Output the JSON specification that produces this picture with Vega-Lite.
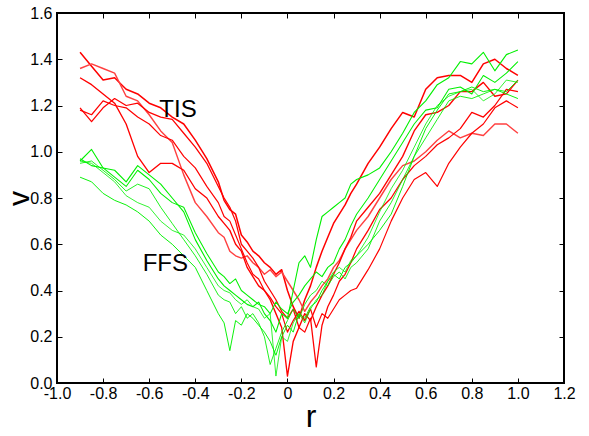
{
"$schema": "https://vega.github.io/schema/vega-lite/v6.json",
"width": 507, "height": 370,
"autosize": "none",
"padding": {"left": 57, "top": 13, "right": 25, "bottom": 53},
"config": {"view": {"stroke": "black", "strokeWidth": 2}, "font": "Liberation Sans",
  "axis": {"grid": false, "domain": false, "offset": -5, "tickColor": "black", "tickSize": 5, "tickWidth": 1, "labelFlush": false, "labelOverlap": false, "labelFont": "Liberation Sans", "labelFontSize": 16, "labelColor": "black", "titleFont": "Liberation Sans", "titleFontSize": 32, "titleFontWeight": "normal", "titleColor": "black"}},
"layer": [
{"data": {"values": [
{"s":"R1","x":-0.9,"y":1.43},{"s":"R1","x":-0.85,"y":1.37},{"s":"R1","x":-0.8,"y":1.31},{"s":"R1","x":-0.75,"y":1.32},{"s":"R1","x":-0.7,"y":1.27},{"s":"R1","x":-0.65,"y":1.25},{"s":"R1","x":-0.6,"y":1.21},{"s":"R1","x":-0.55,"y":1.19},{"s":"R1","x":-0.5,"y":1.15},{"s":"R1","x":-0.45,"y":1.12},{"s":"R1","x":-0.4,"y":1.05},{"s":"R1","x":-0.35,"y":0.97},{"s":"R1","x":-0.3,"y":0.87},
{"s":"R1","x":-0.275,"y":0.79},{"s":"R1","x":-0.25,"y":0.75},{"s":"R1","x":-0.225,"y":0.73},{"s":"R1","x":-0.2,"y":0.64},{"s":"R1","x":-0.175,"y":0.61},{"s":"R1","x":-0.15,"y":0.57},{"s":"R1","x":-0.125,"y":0.55},{"s":"R1","x":-0.1,"y":0.52},{"s":"R1","x":-0.075,"y":0.50},{"s":"R1","x":-0.05,"y":0.47},{"s":"R1","x":-0.025,"y":0.49},{"s":"R1","x":0,"y":0.40},{"s":"R1","x":0.025,"y":0.33},{"s":"R1","x":0.05,"y":0.28},{"s":"R1","x":0.075,"y":0.36},{"s":"R1","x":0.1,"y":0.42},{"s":"R1","x":0.125,"y":0.50},{"s":"R1","x":0.15,"y":0.57},{"s":"R1","x":0.175,"y":0.63},{"s":"R1","x":0.2,"y":0.69},{"s":"R1","x":0.225,"y":0.73},{"s":"R1","x":0.25,"y":0.77},{"s":"R1","x":0.275,"y":0.82},
{"s":"R1","x":0.3,"y":0.86},{"s":"R1","x":0.35,"y":0.95},{"s":"R1","x":0.4,"y":1.02},{"s":"R1","x":0.45,"y":1.10},{"s":"R1","x":0.5,"y":1.17},{"s":"R1","x":0.55,"y":1.15},{"s":"R1","x":0.6,"y":1.27},{"s":"R1","x":0.65,"y":1.32},{"s":"R1","x":0.7,"y":1.33},{"s":"R1","x":0.75,"y":1.33},{"s":"R1","x":0.8,"y":1.30},{"s":"R1","x":0.85,"y":1.38},{"s":"R1","x":0.9,"y":1.40},{"s":"R1","x":0.95,"y":1.36},{"s":"R1","x":1.0,"y":1.33},
{"s":"R2","x":-0.9,"y":1.36},{"s":"R2","x":-0.85,"y":1.38},{"s":"R2","x":-0.8,"y":1.36},{"s":"R2","x":-0.75,"y":1.34},{"s":"R2","x":-0.7,"y":1.24},{"s":"R2","x":-0.65,"y":1.22},{"s":"R2","x":-0.6,"y":1.16},{"s":"R2","x":-0.55,"y":1.09},{"s":"R2","x":-0.5,"y":1.04},{"s":"R2","x":-0.45,"y":0.90},{"s":"R2","x":-0.4,"y":0.78},{"s":"R2","x":-0.35,"y":0.72},{"s":"R2","x":-0.3,"y":0.65},
{"s":"R2","x":-0.275,"y":0.63},{"s":"R2","x":-0.25,"y":0.57},{"s":"R2","x":-0.225,"y":0.55},{"s":"R2","x":-0.2,"y":0.54},{"s":"R2","x":-0.175,"y":0.55},{"s":"R2","x":-0.15,"y":0.52},{"s":"R2","x":-0.125,"y":0.50},{"s":"R2","x":-0.1,"y":0.47},{"s":"R2","x":-0.075,"y":0.49},{"s":"R2","x":-0.05,"y":0.46},{"s":"R2","x":-0.025,"y":0.48},{"s":"R2","x":0,"y":0.44},{"s":"R2","x":0.025,"y":0.40},{"s":"R2","x":0.05,"y":0.36},{"s":"R2","x":0.075,"y":0.31},{"s":"R2","x":0.1,"y":0.35},{"s":"R2","x":0.125,"y":0.38},{"s":"R2","x":0.15,"y":0.42},{"s":"R2","x":0.175,"y":0.45},{"s":"R2","x":0.2,"y":0.50},{"s":"R2","x":0.225,"y":0.53},{"s":"R2","x":0.25,"y":0.58},{"s":"R2","x":0.275,"y":0.62},
{"s":"R2","x":0.3,"y":0.66},{"s":"R2","x":0.35,"y":0.72},{"s":"R2","x":0.4,"y":0.80},{"s":"R2","x":0.45,"y":0.88},{"s":"R2","x":0.5,"y":0.94},{"s":"R2","x":0.55,"y":0.96},{"s":"R2","x":0.6,"y":1.00},{"s":"R2","x":0.65,"y":1.05},{"s":"R2","x":0.7,"y":1.09},{"s":"R2","x":0.75,"y":1.06},{"s":"R2","x":0.8,"y":1.08},{"s":"R2","x":0.85,"y":1.07},{"s":"R2","x":0.9,"y":1.12},{"s":"R2","x":0.95,"y":1.12},{"s":"R2","x":1.0,"y":1.08},
{"s":"R3","x":-0.9,"y":1.32},{"s":"R3","x":-0.85,"y":1.29},{"s":"R3","x":-0.8,"y":1.25},{"s":"R3","x":-0.75,"y":1.21},{"s":"R3","x":-0.7,"y":1.12},{"s":"R3","x":-0.65,"y":0.98},{"s":"R3","x":-0.6,"y":0.91},{"s":"R3","x":-0.55,"y":0.95},{"s":"R3","x":-0.5,"y":0.95},{"s":"R3","x":-0.45,"y":0.92},{"s":"R3","x":-0.4,"y":0.84},{"s":"R3","x":-0.35,"y":0.80},{"s":"R3","x":-0.3,"y":0.72},
{"s":"R3","x":-0.275,"y":0.69},{"s":"R3","x":-0.25,"y":0.66},{"s":"R3","x":-0.225,"y":0.60},{"s":"R3","x":-0.2,"y":0.57},{"s":"R3","x":-0.175,"y":0.50},{"s":"R3","x":-0.15,"y":0.46},{"s":"R3","x":-0.125,"y":0.42},{"s":"R3","x":-0.1,"y":0.40},{"s":"R3","x":-0.075,"y":0.36},{"s":"R3","x":-0.05,"y":0.30},{"s":"R3","x":-0.025,"y":0.24},{"s":"R3","x":0,"y":0.03},{"s":"R3","x":0.025,"y":0.18},{"s":"R3","x":0.05,"y":0.24},{"s":"R3","x":0.075,"y":0.30},{"s":"R3","x":0.1,"y":0.27},{"s":"R3","x":0.125,"y":0.33},{"s":"R3","x":0.15,"y":0.38},{"s":"R3","x":0.175,"y":0.42},{"s":"R3","x":0.2,"y":0.47},{"s":"R3","x":0.225,"y":0.52},{"s":"R3","x":0.25,"y":0.58},{"s":"R3","x":0.275,"y":0.63},
{"s":"R3","x":0.3,"y":0.70},{"s":"R3","x":0.35,"y":0.76},{"s":"R3","x":0.4,"y":0.82},{"s":"R3","x":0.45,"y":0.90},{"s":"R3","x":0.5,"y":0.98},{"s":"R3","x":0.55,"y":1.09},{"s":"R3","x":0.6,"y":1.16},{"s":"R3","x":0.65,"y":1.17},{"s":"R3","x":0.7,"y":1.20},{"s":"R3","x":0.75,"y":1.26},{"s":"R3","x":0.8,"y":1.26},{"s":"R3","x":0.85,"y":1.30},{"s":"R3","x":0.9,"y":1.24},{"s":"R3","x":0.95,"y":1.25},{"s":"R3","x":1.0,"y":1.31},
{"s":"R4","x":-0.9,"y":1.19},{"s":"R4","x":-0.85,"y":1.13},{"s":"R4","x":-0.8,"y":1.19},{"s":"R4","x":-0.75,"y":1.23},{"s":"R4","x":-0.7,"y":1.20},{"s":"R4","x":-0.65,"y":1.21},{"s":"R4","x":-0.6,"y":1.17},{"s":"R4","x":-0.55,"y":1.15},{"s":"R4","x":-0.5,"y":1.14},{"s":"R4","x":-0.45,"y":1.08},{"s":"R4","x":-0.4,"y":1.02},{"s":"R4","x":-0.35,"y":0.95},{"s":"R4","x":-0.3,"y":0.85},
{"s":"R4","x":-0.275,"y":0.80},{"s":"R4","x":-0.25,"y":0.76},{"s":"R4","x":-0.225,"y":0.70},{"s":"R4","x":-0.2,"y":0.60},{"s":"R4","x":-0.175,"y":0.57},{"s":"R4","x":-0.15,"y":0.54},{"s":"R4","x":-0.125,"y":0.50},{"s":"R4","x":-0.1,"y":0.44},{"s":"R4","x":-0.075,"y":0.40},{"s":"R4","x":-0.05,"y":0.36},{"s":"R4","x":-0.025,"y":0.31},{"s":"R4","x":0,"y":0.28},{"s":"R4","x":0.025,"y":0.32},{"s":"R4","x":0.05,"y":0.24},{"s":"R4","x":0.075,"y":0.22},{"s":"R4","x":0.1,"y":0.28},{"s":"R4","x":0.125,"y":0.07},{"s":"R4","x":0.15,"y":0.25},{"s":"R4","x":0.175,"y":0.33},{"s":"R4","x":0.2,"y":0.38},{"s":"R4","x":0.225,"y":0.44},{"s":"R4","x":0.25,"y":0.47},{"s":"R4","x":0.275,"y":0.52},
{"s":"R4","x":0.3,"y":0.58},{"s":"R4","x":0.35,"y":0.66},{"s":"R4","x":0.4,"y":0.75},{"s":"R4","x":0.45,"y":0.80},{"s":"R4","x":0.5,"y":0.88},{"s":"R4","x":0.55,"y":0.94},{"s":"R4","x":0.6,"y":0.98},{"s":"R4","x":0.65,"y":1.03},{"s":"R4","x":0.7,"y":1.06},{"s":"R4","x":0.75,"y":1.10},{"s":"R4","x":0.8,"y":1.17},{"s":"R4","x":0.85,"y":1.15},{"s":"R4","x":0.9,"y":1.20},{"s":"R4","x":0.95,"y":1.27},{"s":"R4","x":1.0,"y":1.26},
{"s":"R5","x":-0.9,"y":1.18},{"s":"R5","x":-0.85,"y":1.16},{"s":"R5","x":-0.8,"y":1.22},{"s":"R5","x":-0.75,"y":1.20},{"s":"R5","x":-0.7,"y":1.19},{"s":"R5","x":-0.65,"y":1.15},{"s":"R5","x":-0.6,"y":1.12},{"s":"R5","x":-0.55,"y":1.07},{"s":"R5","x":-0.5,"y":1.05},{"s":"R5","x":-0.45,"y":0.98},{"s":"R5","x":-0.4,"y":0.93},{"s":"R5","x":-0.35,"y":0.85},{"s":"R5","x":-0.3,"y":0.78},
{"s":"R5","x":-0.275,"y":0.72},{"s":"R5","x":-0.25,"y":0.70},{"s":"R5","x":-0.225,"y":0.64},{"s":"R5","x":-0.2,"y":0.58},{"s":"R5","x":-0.175,"y":0.52},{"s":"R5","x":-0.15,"y":0.47},{"s":"R5","x":-0.125,"y":0.45},{"s":"R5","x":-0.1,"y":0.40},{"s":"R5","x":-0.075,"y":0.37},{"s":"R5","x":-0.05,"y":0.33},{"s":"R5","x":-0.025,"y":0.30},{"s":"R5","x":0,"y":0.22},{"s":"R5","x":0.025,"y":0.27},{"s":"R5","x":0.05,"y":0.31},{"s":"R5","x":0.075,"y":0.27},{"s":"R5","x":0.1,"y":0.32},{"s":"R5","x":0.125,"y":0.24},{"s":"R5","x":0.15,"y":0.30},{"s":"R5","x":0.175,"y":0.28},{"s":"R5","x":0.2,"y":0.32},{"s":"R5","x":0.225,"y":0.36},{"s":"R5","x":0.25,"y":0.38},{"s":"R5","x":0.275,"y":0.40},
{"s":"R5","x":0.3,"y":0.41},{"s":"R5","x":0.35,"y":0.49},{"s":"R5","x":0.4,"y":0.58},{"s":"R5","x":0.45,"y":0.70},{"s":"R5","x":0.5,"y":0.80},{"s":"R5","x":0.55,"y":0.88},{"s":"R5","x":0.6,"y":0.91},{"s":"R5","x":0.65,"y":0.85},{"s":"R5","x":0.7,"y":0.95},{"s":"R5","x":0.75,"y":1.02},{"s":"R5","x":0.8,"y":1.08},{"s":"R5","x":0.85,"y":1.12},{"s":"R5","x":0.9,"y":1.19},{"s":"R5","x":0.95,"y":1.22},{"s":"R5","x":1.0,"y":1.19},
{"s":"G1","x":-0.9,"y":0.96},{"s":"G1","x":-0.85,"y":1.01},{"s":"G1","x":-0.8,"y":0.93},{"s":"G1","x":-0.75,"y":0.92},{"s":"G1","x":-0.7,"y":0.87},{"s":"G1","x":-0.65,"y":0.94},{"s":"G1","x":-0.6,"y":0.90},{"s":"G1","x":-0.55,"y":0.86},{"s":"G1","x":-0.5,"y":0.80},{"s":"G1","x":-0.45,"y":0.74},{"s":"G1","x":-0.4,"y":0.62},{"s":"G1","x":-0.35,"y":0.53},{"s":"G1","x":-0.3,"y":0.45},
{"s":"G1","x":-0.275,"y":0.42},{"s":"G1","x":-0.25,"y":0.40},{"s":"G1","x":-0.225,"y":0.38},{"s":"G1","x":-0.2,"y":0.36},{"s":"G1","x":-0.175,"y":0.34},{"s":"G1","x":-0.15,"y":0.33},{"s":"G1","x":-0.125,"y":0.35},{"s":"G1","x":-0.1,"y":0.30},{"s":"G1","x":-0.075,"y":0.27},{"s":"G1","x":-0.05,"y":0.22},{"s":"G1","x":-0.025,"y":0.30},{"s":"G1","x":0,"y":0.28},{"s":"G1","x":0.025,"y":0.40},{"s":"G1","x":0.05,"y":0.52},{"s":"G1","x":0.075,"y":0.55},{"s":"G1","x":0.1,"y":0.50},{"s":"G1","x":0.125,"y":0.62},{"s":"G1","x":0.15,"y":0.72},{"s":"G1","x":0.175,"y":0.74},{"s":"G1","x":0.2,"y":0.76},{"s":"G1","x":0.225,"y":0.78},{"s":"G1","x":0.25,"y":0.80},{"s":"G1","x":0.275,"y":0.86},
{"s":"G1","x":0.3,"y":0.88},{"s":"G1","x":0.35,"y":0.90},{"s":"G1","x":0.4,"y":0.93},{"s":"G1","x":0.45,"y":1.00},{"s":"G1","x":0.5,"y":1.08},{"s":"G1","x":0.55,"y":1.17},{"s":"G1","x":0.6,"y":1.22},{"s":"G1","x":0.65,"y":1.29},{"s":"G1","x":0.7,"y":1.32},{"s":"G1","x":0.75,"y":1.39},{"s":"G1","x":0.8,"y":1.38},{"s":"G1","x":0.85,"y":1.43},{"s":"G1","x":0.9,"y":1.35},{"s":"G1","x":0.95,"y":1.42},{"s":"G1","x":1.0,"y":1.44},
{"s":"G2","x":-0.9,"y":0.97},{"s":"G2","x":-0.85,"y":0.94},{"s":"G2","x":-0.8,"y":0.93},{"s":"G2","x":-0.75,"y":0.89},{"s":"G2","x":-0.7,"y":0.85},{"s":"G2","x":-0.65,"y":0.92},{"s":"G2","x":-0.6,"y":0.88},{"s":"G2","x":-0.55,"y":0.82},{"s":"G2","x":-0.5,"y":0.78},{"s":"G2","x":-0.45,"y":0.76},{"s":"G2","x":-0.4,"y":0.65},{"s":"G2","x":-0.35,"y":0.56},{"s":"G2","x":-0.3,"y":0.48},
{"s":"G2","x":-0.275,"y":0.46},{"s":"G2","x":-0.25,"y":0.43},{"s":"G2","x":-0.225,"y":0.45},{"s":"G2","x":-0.2,"y":0.40},{"s":"G2","x":-0.175,"y":0.38},{"s":"G2","x":-0.15,"y":0.36},{"s":"G2","x":-0.125,"y":0.34},{"s":"G2","x":-0.1,"y":0.33},{"s":"G2","x":-0.075,"y":0.30},{"s":"G2","x":-0.05,"y":0.35},{"s":"G2","x":-0.025,"y":0.32},{"s":"G2","x":0,"y":0.30},{"s":"G2","x":0.025,"y":0.35},{"s":"G2","x":0.05,"y":0.38},{"s":"G2","x":0.075,"y":0.42},{"s":"G2","x":0.1,"y":0.45},{"s":"G2","x":0.125,"y":0.48},{"s":"G2","x":0.15,"y":0.46},{"s":"G2","x":0.175,"y":0.50},{"s":"G2","x":0.2,"y":0.52},{"s":"G2","x":0.225,"y":0.58},{"s":"G2","x":0.25,"y":0.62},{"s":"G2","x":0.275,"y":0.68},
{"s":"G2","x":0.3,"y":0.73},{"s":"G2","x":0.35,"y":0.80},{"s":"G2","x":0.4,"y":0.88},{"s":"G2","x":0.45,"y":0.96},{"s":"G2","x":0.5,"y":1.04},{"s":"G2","x":0.55,"y":1.12},{"s":"G2","x":0.6,"y":1.18},{"s":"G2","x":0.65,"y":1.19},{"s":"G2","x":0.7,"y":1.27},{"s":"G2","x":0.75,"y":1.28},{"s":"G2","x":0.8,"y":1.25},{"s":"G2","x":0.85,"y":1.33},{"s":"G2","x":0.9,"y":1.30},{"s":"G2","x":0.95,"y":1.34},{"s":"G2","x":1.0,"y":1.39},
{"s":"G3","x":-0.9,"y":0.89},{"s":"G3","x":-0.85,"y":0.87},{"s":"G3","x":-0.8,"y":0.82},{"s":"G3","x":-0.75,"y":0.79},{"s":"G3","x":-0.7,"y":0.77},{"s":"G3","x":-0.65,"y":0.74},{"s":"G3","x":-0.6,"y":0.70},{"s":"G3","x":-0.55,"y":0.64},{"s":"G3","x":-0.5,"y":0.60},{"s":"G3","x":-0.45,"y":0.55},{"s":"G3","x":-0.4,"y":0.50},{"s":"G3","x":-0.35,"y":0.40},{"s":"G3","x":-0.3,"y":0.30},
{"s":"G3","x":-0.275,"y":0.26},{"s":"G3","x":-0.25,"y":0.14},{"s":"G3","x":-0.225,"y":0.27},{"s":"G3","x":-0.2,"y":0.25},{"s":"G3","x":-0.175,"y":0.30},{"s":"G3","x":-0.15,"y":0.28},{"s":"G3","x":-0.125,"y":0.25},{"s":"G3","x":-0.1,"y":0.22},{"s":"G3","x":-0.075,"y":0.18},{"s":"G3","x":-0.05,"y":0.12},{"s":"G3","x":-0.025,"y":0.20},{"s":"G3","x":0,"y":0.25},{"s":"G3","x":0.025,"y":0.22},{"s":"G3","x":0.05,"y":0.30},{"s":"G3","x":0.075,"y":0.28},{"s":"G3","x":0.1,"y":0.33},{"s":"G3","x":0.125,"y":0.35},{"s":"G3","x":0.15,"y":0.40},{"s":"G3","x":0.175,"y":0.44},{"s":"G3","x":0.2,"y":0.47},{"s":"G3","x":0.225,"y":0.45},{"s":"G3","x":0.25,"y":0.50},{"s":"G3","x":0.275,"y":0.52},
{"s":"G3","x":0.3,"y":0.55},{"s":"G3","x":0.35,"y":0.60},{"s":"G3","x":0.4,"y":0.66},{"s":"G3","x":0.45,"y":0.73},{"s":"G3","x":0.5,"y":0.85},{"s":"G3","x":0.55,"y":0.98},{"s":"G3","x":0.6,"y":1.10},{"s":"G3","x":0.65,"y":1.18},{"s":"G3","x":0.7,"y":1.25},{"s":"G3","x":0.75,"y":1.26},{"s":"G3","x":0.8,"y":1.28},{"s":"G3","x":0.85,"y":1.26},{"s":"G3","x":0.9,"y":1.27},{"s":"G3","x":0.95,"y":1.25},{"s":"G3","x":1.0,"y":1.23},
{"s":"G4","x":-0.9,"y":0.95},{"s":"G4","x":-0.85,"y":0.96},{"s":"G4","x":-0.8,"y":0.92},{"s":"G4","x":-0.75,"y":0.88},{"s":"G4","x":-0.7,"y":0.83},{"s":"G4","x":-0.65,"y":0.86},{"s":"G4","x":-0.6,"y":0.84},{"s":"G4","x":-0.55,"y":0.76},{"s":"G4","x":-0.5,"y":0.69},{"s":"G4","x":-0.45,"y":0.62},{"s":"G4","x":-0.4,"y":0.55},{"s":"G4","x":-0.35,"y":0.47},{"s":"G4","x":-0.3,"y":0.38},
{"s":"G4","x":-0.275,"y":0.36},{"s":"G4","x":-0.25,"y":0.35},{"s":"G4","x":-0.225,"y":0.30},{"s":"G4","x":-0.2,"y":0.33},{"s":"G4","x":-0.175,"y":0.28},{"s":"G4","x":-0.15,"y":0.30},{"s":"G4","x":-0.125,"y":0.26},{"s":"G4","x":-0.1,"y":0.20},{"s":"G4","x":-0.075,"y":0.08},{"s":"G4","x":-0.05,"y":0.15},{"s":"G4","x":-0.025,"y":0.22},{"s":"G4","x":0,"y":0.27},{"s":"G4","x":0.025,"y":0.32},{"s":"G4","x":0.05,"y":0.28},{"s":"G4","x":0.075,"y":0.34},{"s":"G4","x":0.1,"y":0.38},{"s":"G4","x":0.125,"y":0.40},{"s":"G4","x":0.15,"y":0.44},{"s":"G4","x":0.175,"y":0.42},{"s":"G4","x":0.2,"y":0.46},{"s":"G4","x":0.225,"y":0.48},{"s":"G4","x":0.25,"y":0.45},{"s":"G4","x":0.275,"y":0.50},
{"s":"G4","x":0.3,"y":0.52},{"s":"G4","x":0.35,"y":0.58},{"s":"G4","x":0.4,"y":0.70},{"s":"G4","x":0.45,"y":0.78},{"s":"G4","x":0.5,"y":0.88},{"s":"G4","x":0.55,"y":0.98},{"s":"G4","x":0.6,"y":1.06},{"s":"G4","x":0.65,"y":1.14},{"s":"G4","x":0.7,"y":1.22},{"s":"G4","x":0.75,"y":1.24},{"s":"G4","x":0.8,"y":1.23},{"s":"G4","x":0.85,"y":1.25},{"s":"G4","x":0.9,"y":1.27},{"s":"G4","x":0.95,"y":1.26},{"s":"G4","x":1.0,"y":1.31},
{"s":"G5","x":-0.9,"y":0.96},{"s":"G5","x":-0.85,"y":0.95},{"s":"G5","x":-0.8,"y":0.91},{"s":"G5","x":-0.75,"y":0.87},{"s":"G5","x":-0.7,"y":0.81},{"s":"G5","x":-0.65,"y":0.78},{"s":"G5","x":-0.6,"y":0.76},{"s":"G5","x":-0.55,"y":0.70},{"s":"G5","x":-0.5,"y":0.66},{"s":"G5","x":-0.45,"y":0.64},{"s":"G5","x":-0.4,"y":0.58},{"s":"G5","x":-0.35,"y":0.50},{"s":"G5","x":-0.3,"y":0.42},
{"s":"G5","x":-0.275,"y":0.40},{"s":"G5","x":-0.25,"y":0.39},{"s":"G5","x":-0.225,"y":0.36},{"s":"G5","x":-0.2,"y":0.34},{"s":"G5","x":-0.175,"y":0.36},{"s":"G5","x":-0.15,"y":0.33},{"s":"G5","x":-0.125,"y":0.32},{"s":"G5","x":-0.1,"y":0.28},{"s":"G5","x":-0.075,"y":0.30},{"s":"G5","x":-0.05,"y":0.03},{"s":"G5","x":-0.025,"y":0.20},{"s":"G5","x":0,"y":0.18},{"s":"G5","x":0.025,"y":0.26},{"s":"G5","x":0.05,"y":0.30},{"s":"G5","x":0.075,"y":0.26},{"s":"G5","x":0.1,"y":0.32},{"s":"G5","x":0.125,"y":0.36},{"s":"G5","x":0.15,"y":0.38},{"s":"G5","x":0.175,"y":0.44},{"s":"G5","x":0.2,"y":0.48},{"s":"G5","x":0.225,"y":0.50},{"s":"G5","x":0.25,"y":0.48},{"s":"G5","x":0.275,"y":0.53},
{"s":"G5","x":0.3,"y":0.55},{"s":"G5","x":0.35,"y":0.63},{"s":"G5","x":0.4,"y":0.74},{"s":"G5","x":0.45,"y":0.84},{"s":"G5","x":0.5,"y":0.92},{"s":"G5","x":0.55,"y":1.02},{"s":"G5","x":0.6,"y":1.12},{"s":"G5","x":0.65,"y":1.20},{"s":"G5","x":0.7,"y":1.24},{"s":"G5","x":0.75,"y":1.26},{"s":"G5","x":0.8,"y":1.27},{"s":"G5","x":0.85,"y":1.22},{"s":"G5","x":0.9,"y":1.25},{"s":"G5","x":0.95,"y":1.31},{"s":"G5","x":1.0,"y":1.30}
]},
"mark": {"type": "line", "strokeJoin": "round", "clip": true},
"encoding": {
 "x": {"field": "x", "type": "quantitative", "scale": {"domain": [-1, 1.2], "nice": false, "zero": false},
   "axis": {"orient": "bottom", "values": [-1, -0.8, -0.6, -0.4, -0.2, 0, 0.2, 0.4, 0.6, 0.8, 1, 1.2], "labelPadding": 2, "labelExpr": "datum.value == 0 ? '0' : (datum.value < 0 ? '-' + format(-datum.value, '.1f') : format(datum.value, '.1f'))", "title": "r", "titlePadding": 0}},
 "y": {"field": "y", "type": "quantitative", "scale": {"domain": [0, 1.6], "nice": false, "zero": false},
   "axis": {"orient": "left", "values": [0, 0.2, 0.4, 0.6, 0.8, 1, 1.2, 1.4, 1.6], "format": ".1f", "labelPadding": 5, "title": "v", "titleFontSize": 30, "titlePadding": -5}},
 "color": {"field": "s", "type": "nominal", "scale": {"domain": ["R1","R2","R3","R4","R5","G1","G2","G3","G4","G5"], "range": ["#ff0000","#ff4040","#ff0000","#ff0000","#ff0000","#00f000","#00f000","#00f000","#00f000","#00f000"]}, "legend": null},
 "strokeWidth": {"field": "s", "type": "nominal", "scale": {"domain": ["R1","R2","R3","R4","R5","G1","G2","G3","G4","G5"], "range": [1.5,0.8,1.5,1.5,1.5,1.5,1.5,1.5,1.5,1.5]}, "legend": null}
}},
{"data": {"values": [{"t": "TIS", "x": -0.475, "y": 1.18}, {"t": "FFS", "x": -0.53, "y": 0.515}]},
 "mark": {"type": "text", "fontSize": 24, "font": "Liberation Sans", "color": "black", "align": "center", "baseline": "middle"},
 "encoding": {
  "x": {"field": "x", "type": "quantitative", "scale": {"domain": [-1, 1.2], "nice": false, "zero": false},
    "axis": {"orient": "top", "values": [-1, -0.8, -0.6, -0.4, -0.2, 0, 0.2, 0.4, 0.6, 0.8, 1, 1.2], "labels": false, "title": null}},
  "y": {"field": "y", "type": "quantitative", "scale": {"domain": [0, 1.6], "nice": false, "zero": false},
    "axis": {"orient": "right", "values": [0, 0.2, 0.4, 0.6, 0.8, 1, 1.2, 1.4, 1.6], "labels": false, "title": null}},
  "text": {"field": "t"}
 }}
],
"resolve": {"axis": {"x": "independent", "y": "independent"}}
}
